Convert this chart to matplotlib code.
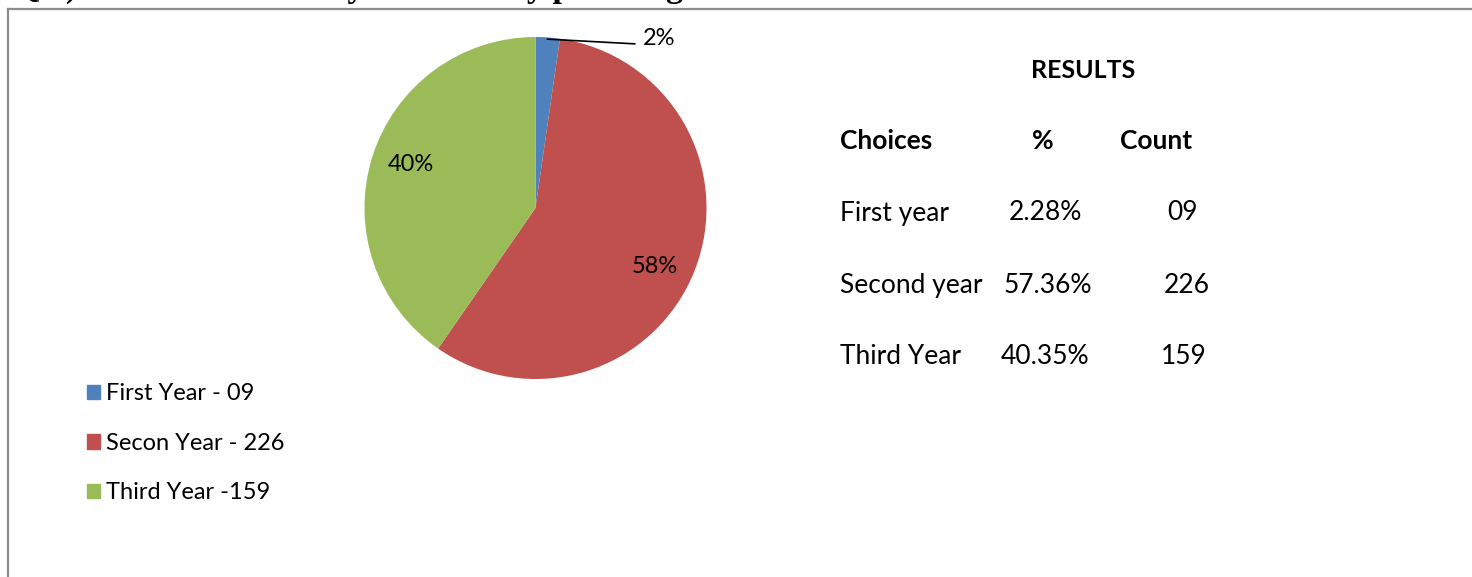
import numpy as np
import matplotlib.pyplot as plt
from matplotlib.lines import Line2D

W, H = 1472, 577

# data
labels = ['First Year - 09', 'Secon Year - 226', 'Third Year -159']
counts = [9, 226, 159]
shares = [2.28, 57.36, 40.35]
slice_labels = ['2%', '58%', '40%']
colors = ['#4F81BD', '#C0504D', '#9BBB59']

choices = ['First year', 'Second year', 'Third Year']
pct_text = ['2.28%', '57.36%', '40.35%']
count_text = ['09', '226', '159']

plt.rcParams['font.family'] = ['Lato', 'DejaVu Sans']


def fx(x):
    return x / W


def fy(y):
    return 1 - y / H


fig = plt.figure(figsize=(W / 100, H / 100), dpi=100)

# frame (top and left edge visible)
fig.add_artist(Line2D([fx(8), fx(8)], [fy(9), 0], color='#8c8c8c', lw=1.6))
fig.add_artist(Line2D([fx(8), 1], [fy(9), fy(9)], color='#8c8c8c', lw=1.6))

# cropped question above the frame
fig.text(fx(14), fy(-3.5), 'Q.3) Which course are you currently pursuing?',
         family='Liberation Serif', weight='bold', fontsize=24.5, va='baseline')

# pie
ax = fig.add_axes([fx(364.5), fy(379), 342 / W, 342 / H])
wedges, texts, autotexts = ax.pie(shares, colors=colors, startangle=90,
                                  counterclock=False, autopct='%.0f%%',
                                  pctdistance=0.78,
                                  textprops={'fontsize': 17, 'color': 'black'},
                                  wedgeprops={'linewidth': 0})
ax.set_xlim(-1, 1)
ax.set_ylim(-1, 1)
ax.set_aspect('equal')
for t, s in zip(autotexts, slice_labels):
    t.set_text(s)
autotexts[1].set_position((0.70, -0.345))
autotexts[2].set_position((-0.728, 0.257))

# small slice label outside with leader line
autotexts[0].set_visible(False)
w0 = wedges[0]
mid = np.deg2rad((w0.theta1 + w0.theta2) / 2)
ax.plot([np.cos(mid) * 0.99, 0.58], [np.sin(mid) * 0.99, 0.96],
        color='black', lw=1.2, clip_on=False)
ax.text(0.625, 0.99, slice_labels[0], fontsize=17, ha='left', va='center')

# legend
handles = [plt.Rectangle((0, 0), 1, 1, color=c) for c in colors]
fig.legend(handles, labels, loc='upper left',
           bbox_to_anchor=(fx(78), fy(374)), frameon=False,
           fontsize=17, handlelength=0.55, handleheight=0.55,
           handletextpad=0.25, labelspacing=1.2, borderaxespad=0)

# results table
fs = 19
fig.text(fx(1083), fy(70), 'RESULTS', weight='bold', fontsize=18, ha='center', va='center')
fig.text(fx(840), fy(141), 'Choices', weight='bold', fontsize=fs, ha='left', va='center')
fig.text(fx(1043), fy(141), '%', weight='bold', fontsize=fs, ha='center', va='center')
fig.text(fx(1156), fy(141), 'Count', weight='bold', fontsize=fs, ha='center', va='center')
row_y = [213, 285, 357]
pct_x = [1045, 1048, 1045]
cnt_x = [1183, 1187, 1184]
for i in range(3):
    fig.text(fx(840), fy(row_y[i]), choices[i], fontsize=fs, ha='left', va='center')
    fig.text(fx(pct_x[i]), fy(row_y[i]), pct_text[i], fontsize=fs, ha='center', va='center')
    fig.text(fx(cnt_x[i]), fy(row_y[i]), count_text[i], fontsize=fs, ha='center', va='center')

fig.savefig('out.png', dpi=100)
